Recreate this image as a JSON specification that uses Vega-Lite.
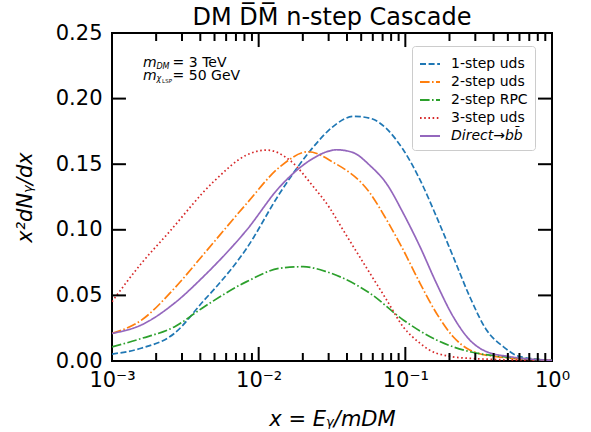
{
  "$schema": "https://vega.github.io/schema/vega-lite/v6.json",
  "width": 440,
  "height": 328,
  "autosize": {"type": "none"},
  "padding": {"left": 112, "top": 33, "right": 39, "bottom": 71},
  "background": "white",
  "config": {
    "font": "DejaVu Sans",
    "view": {"stroke": "black", "strokeWidth": 2},
    "axis": {"grid": false, "domain": false, "labelColor": "black", "titleColor": "black", "labelFont": "DejaVu Sans", "titleFont": "DejaVu Sans"}
  },
  "title": {"text": "DM D̅M̅ n-step Cascade", "fontSize": 24, "fontWeight": "normal", "font": "DejaVu Sans", "color": "black", "offset": -27, "baseline": "alphabetic", "anchor": "middle"},
  "datasets": {
    "lines": [
      {"series": "1-step uds", "x": 0.001, "y": 0.0053},
      {"series": "1-step uds", "x": 0.00158, "y": 0.0097},
      {"series": "1-step uds", "x": 0.00266, "y": 0.021},
      {"series": "1-step uds", "x": 0.00426, "y": 0.0465},
      {"series": "1-step uds", "x": 0.00491, "y": 0.054},
      {"series": "1-step uds", "x": 0.00828, "y": 0.0859},
      {"series": "1-step uds", "x": 0.01396, "y": 0.128},
      {"series": "1-step uds", "x": 0.02355, "y": 0.163},
      {"series": "1-step uds", "x": 0.0316, "y": 0.178},
      {"series": "1-step uds", "x": 0.0447, "y": 0.1865},
      {"series": "1-step uds", "x": 0.0574, "y": 0.185},
      {"series": "1-step uds", "x": 0.0968, "y": 0.161},
      {"series": "1-step uds", "x": 0.126, "y": 0.138},
      {"series": "1-step uds", "x": 0.163, "y": 0.11},
      {"series": "1-step uds", "x": 0.212, "y": 0.0795},
      {"series": "1-step uds", "x": 0.275, "y": 0.049},
      {"series": "1-step uds", "x": 0.358, "y": 0.0236},
      {"series": "1-step uds", "x": 0.465, "y": 0.011},
      {"series": "1-step uds", "x": 0.604, "y": 0.0033},
      {"series": "1-step uds", "x": 1, "y": 0.0005},
      {"series": "2-step uds", "x": 0.001, "y": 0.021},
      {"series": "2-step uds", "x": 0.00158, "y": 0.031},
      {"series": "2-step uds", "x": 0.00266, "y": 0.0553},
      {"series": "2-step uds", "x": 0.00426, "y": 0.082},
      {"series": "2-step uds", "x": 0.00828, "y": 0.12},
      {"series": "2-step uds", "x": 0.01396, "y": 0.148},
      {"series": "2-step uds", "x": 0.0218, "y": 0.1595},
      {"series": "2-step uds", "x": 0.0316, "y": 0.152},
      {"series": "2-step uds", "x": 0.0574, "y": 0.128},
      {"series": "2-step uds", "x": 0.0746, "y": 0.1075},
      {"series": "2-step uds", "x": 0.0968, "y": 0.0846},
      {"series": "2-step uds", "x": 0.126, "y": 0.0592},
      {"series": "2-step uds", "x": 0.163, "y": 0.0364},
      {"series": "2-step uds", "x": 0.212, "y": 0.0185},
      {"series": "2-step uds", "x": 0.275, "y": 0.0084},
      {"series": "2-step uds", "x": 0.419, "y": 0.0033},
      {"series": "2-step uds", "x": 1, "y": 0.0005},
      {"series": "2-step RPC", "x": 0.001, "y": 0.0107},
      {"series": "2-step RPC", "x": 0.00158, "y": 0.0171},
      {"series": "2-step RPC", "x": 0.00266, "y": 0.026},
      {"series": "2-step RPC", "x": 0.00426, "y": 0.0414},
      {"series": "2-step RPC", "x": 0.00828, "y": 0.0605},
      {"series": "2-step RPC", "x": 0.01396, "y": 0.0707},
      {"series": "2-step RPC", "x": 0.0201, "y": 0.0719},
      {"series": "2-step RPC", "x": 0.0291, "y": 0.068},
      {"series": "2-step RPC", "x": 0.0574, "y": 0.0516},
      {"series": "2-step RPC", "x": 0.0968, "y": 0.0313},
      {"series": "2-step RPC", "x": 0.163, "y": 0.016},
      {"series": "2-step RPC", "x": 0.275, "y": 0.0071},
      {"series": "2-step RPC", "x": 0.465, "y": 0.0033},
      {"series": "2-step RPC", "x": 1, "y": 0.0005},
      {"series": "3-step uds", "x": 0.001, "y": 0.0452},
      {"series": "3-step uds", "x": 0.00158, "y": 0.0742},
      {"series": "3-step uds", "x": 0.00241, "y": 0.0973},
      {"series": "3-step uds", "x": 0.00491, "y": 0.1365},
      {"series": "3-step uds", "x": 0.00828, "y": 0.157},
      {"series": "3-step uds", "x": 0.01135, "y": 0.1608},
      {"series": "3-step uds", "x": 0.01633, "y": 0.153},
      {"series": "3-step uds", "x": 0.02355, "y": 0.133},
      {"series": "3-step uds", "x": 0.0306, "y": 0.1164},
      {"series": "3-step uds", "x": 0.0355, "y": 0.1045},
      {"series": "3-step uds", "x": 0.0574, "y": 0.0668},
      {"series": "3-step uds", "x": 0.0746, "y": 0.0465},
      {"series": "3-step uds", "x": 0.0968, "y": 0.026},
      {"series": "3-step uds", "x": 0.126, "y": 0.0135},
      {"series": "3-step uds", "x": 0.163, "y": 0.0059},
      {"series": "3-step uds", "x": 0.275, "y": 0.002},
      {"series": "3-step uds", "x": 1, "y": 0.0003},
      {"series": "Direct→bb̄", "x": 0.001, "y": 0.021},
      {"series": "Direct→bb̄", "x": 0.00158, "y": 0.0274},
      {"series": "Direct→bb̄", "x": 0.00266, "y": 0.044},
      {"series": "Direct→bb̄", "x": 0.00426, "y": 0.065},
      {"series": "Direct→bb̄", "x": 0.00491, "y": 0.0719},
      {"series": "Direct→bb̄", "x": 0.00828, "y": 0.0998},
      {"series": "Direct→bb̄", "x": 0.01396, "y": 0.1329},
      {"series": "Direct→bb̄", "x": 0.02355, "y": 0.1545},
      {"series": "Direct→bb̄", "x": 0.0291, "y": 0.1595},
      {"series": "Direct→bb̄", "x": 0.0339, "y": 0.161},
      {"series": "Direct→bb̄", "x": 0.0437, "y": 0.159},
      {"series": "Direct→bb̄", "x": 0.0574, "y": 0.149},
      {"series": "Direct→bb̄", "x": 0.0746, "y": 0.135},
      {"series": "Direct→bb̄", "x": 0.0968, "y": 0.1126},
      {"series": "Direct→bb̄", "x": 0.126, "y": 0.087},
      {"series": "Direct→bb̄", "x": 0.163, "y": 0.0592},
      {"series": "Direct→bb̄", "x": 0.212, "y": 0.0338},
      {"series": "Direct→bb̄", "x": 0.275, "y": 0.016},
      {"series": "Direct→bb̄", "x": 0.358, "y": 0.0071},
      {"series": "Direct→bb̄", "x": 0.516, "y": 0.0033},
      {"series": "Direct→bb̄", "x": 1, "y": 0.0005}
    ],
    "notes": [
      {"part": "m", "x": 0.00163, "y": 0.227, "t": "m"},
      {"part": "m", "x": 0.00163, "y": 0.2175, "t": "m"},
      {"part": "sub", "x": 0.00163, "y": 0.227, "t": "DM"},
      {"part": "sub", "x": 0.00163, "y": 0.2175, "t": "χ"},
      {"part": "lsp", "x": 0.00163, "y": 0.2175, "t": "LSP"},
      {"part": "eq1", "x": 0.00163, "y": 0.227, "t": "= 3 TeV"},
      {"part": "eq2", "x": 0.00163, "y": 0.2175, "t": "= 50 GeV"}
    ]
  },
  "layer": [
    {
      "data": {"name": "lines"},
      "mark": {"type": "line", "strokeWidth": 1.7, "clip": true, "interpolate": "monotone"},
      "encoding": {
        "x": {
          "field": "x", "type": "quantitative",
          "scale": {"type": "log", "domain": [0.001, 1], "nice": false},
          "axis": {
            "orient": "bottom",
            "values": [0.001, 0.01, 0.1, 1],
            "labelExpr": "datum.value < 0.0015 ? '10⁻³' : (datum.value < 0.015 ? '10⁻²' : (datum.value < 0.15 ? '10⁻¹' : '10⁰'))",
            "ticks": false,
            "labelFontSize": 21,
            "labelPadding": 8,
            "labelFlush": false,
            "labelOverlap": false,
            "title": "x = Eᵧ/mDM",
            "titleFontSize": 21,
            "titleFontWeight": "normal",
            "titleFontStyle": "italic",
            "titlePadding": 18
          }
        },
        "y": {
          "field": "y", "type": "quantitative",
          "scale": {"domain": [0, 0.25], "nice": false},
          "axis": {
            "orient": "left",
            "values": [0, 0.05, 0.1, 0.15, 0.2, 0.25],
            "format": ".2f",
            "ticks": false,
            "labelFontSize": 21,
            "labelPadding": 10,
            "labelFlush": false,
            "labelOverlap": false,
            "title": "x²dNᵧ/dx",
            "titleFontSize": 21,
            "titleFontWeight": "normal",
            "titleFontStyle": "italic",
            "titlePadding": 20
          }
        },
        "color": {
          "field": "series", "type": "nominal",
          "scale": {"domain": ["1-step uds", "2-step uds", "2-step RPC", "3-step uds", "Direct→bb̄"], "range": ["#1f77b4", "#ff7f0e", "#2ca02c", "#d62728", "#9467bd"]},
          "legend": {
            "title": null, "orient": "none", "legendX": 300, "legendY": 13,
            "symbolType": "stroke", "symbolSize": 400, "symbolStrokeWidth": 2,
            "labelFontSize": 14, "labelFont": "DejaVu Sans", "labelColor": "black", "labelOffset": 10,
            "rowPadding": 0, "padding": 7, "fillColor": "white", "strokeColor": "#cccccc", "cornerRadius": 3,
            "labelLimit": 200,
            "encode": {"labels": {"update": {"fontStyle": {"signal": "datum.value === 'Direct→bb̄' ? 'italic' : 'normal'"}}}}
          }
        },
        "strokeDash": {
          "field": "series", "type": "nominal",
          "scale": {"domain": ["1-step uds", "2-step uds", "2-step RPC", "3-step uds", "Direct→bb̄"], "range": [[6, 2.6], [9.6, 2.4, 1.6, 2.4], [9.6, 2.4, 1.6, 2.4], [1.6, 2.6], [1, 0]]},
          "legend": {
            "title": null, "orient": "none", "legendX": 300, "legendY": 13,
            "symbolType": "stroke", "symbolSize": 400, "symbolStrokeWidth": 2,
            "labelFontSize": 14, "labelFont": "DejaVu Sans", "labelColor": "black", "labelOffset": 10,
            "rowPadding": 0, "padding": 7, "fillColor": "white", "strokeColor": "#cccccc", "cornerRadius": 3,
            "labelLimit": 200,
            "encode": {"labels": {"update": {"fontStyle": {"signal": "datum.value === 'Direct→bb̄' ? 'italic' : 'normal'"}}}}
          }
        }
      }
    },
    {
      "data": {"name": "notes"},
      "transform": [{"filter": "datum.part === 'm'"}],
      "mark": {"type": "text", "fontSize": 14, "fontStyle": "italic", "align": "left", "baseline": "middle", "color": "black"},
      "encoding": {
        "x": {"field": "x", "type": "quantitative", "axis": null},
        "y": {"field": "y", "type": "quantitative", "axis": null},
        "text": {"field": "t"}
      }
    },
    {
      "data": {"name": "notes"},
      "transform": [{"filter": "datum.part === 'sub'"}],
      "mark": {"type": "text", "fontSize": 8, "fontStyle": "italic", "align": "left", "baseline": "middle", "dx": 13.3, "dy": 3.5, "color": "black"},
      "encoding": {
        "x": {"field": "x", "type": "quantitative", "axis": null},
        "y": {"field": "y", "type": "quantitative", "axis": null},
        "text": {"field": "t"}
      }
    },
    {
      "data": {"name": "notes"},
      "transform": [{"filter": "datum.part === 'lsp'"}],
      "mark": {"type": "text", "fontSize": 5.5, "align": "left", "baseline": "middle", "dx": 19, "dy": 5.5, "color": "black"},
      "encoding": {
        "x": {"field": "x", "type": "quantitative", "axis": null},
        "y": {"field": "y", "type": "quantitative", "axis": null},
        "text": {"field": "t"}
      }
    },
    {
      "data": {"name": "notes"},
      "transform": [{"filter": "datum.part === 'eq1'"}],
      "mark": {"type": "text", "fontSize": 14, "align": "left", "baseline": "middle", "dx": 29.5, "color": "black"},
      "encoding": {
        "x": {"field": "x", "type": "quantitative", "axis": null},
        "y": {"field": "y", "type": "quantitative", "axis": null},
        "text": {"field": "t"}
      }
    },
    {
      "data": {"name": "notes"},
      "transform": [{"filter": "datum.part === 'eq2'"}],
      "mark": {"type": "text", "fontSize": 14, "align": "left", "baseline": "middle", "dx": 29.5, "color": "black"},
      "encoding": {
        "x": {"field": "x", "type": "quantitative", "axis": null},
        "y": {"field": "y", "type": "quantitative", "axis": null},
        "text": {"field": "t"}
      }
    },
    {
      "data": {"values": [
        {"id": "b-0.01", "x": 0.01, "y": 0}, {"id": "b-0.01", "x": 0.01, "y": 0.0107},
        {"id": "b-0.1", "x": 0.1, "y": 0}, {"id": "b-0.1", "x": 0.1, "y": 0.0107},
        {"id": "t-0.01", "x": 0.01, "y": 0.25}, {"id": "t-0.01", "x": 0.01, "y": 0.2393},
        {"id": "t-0.1", "x": 0.1, "y": 0.25}, {"id": "t-0.1", "x": 0.1, "y": 0.2393},
        {"id": "b-0.002", "x": 0.002, "y": 0}, {"id": "b-0.002", "x": 0.002, "y": 0.0061},
        {"id": "b-0.003", "x": 0.003, "y": 0}, {"id": "b-0.003", "x": 0.003, "y": 0.0061},
        {"id": "b-0.004", "x": 0.004, "y": 0}, {"id": "b-0.004", "x": 0.004, "y": 0.0061},
        {"id": "b-0.005", "x": 0.005, "y": 0}, {"id": "b-0.005", "x": 0.005, "y": 0.0061},
        {"id": "b-0.006", "x": 0.006, "y": 0}, {"id": "b-0.006", "x": 0.006, "y": 0.0061},
        {"id": "b-0.007", "x": 0.007, "y": 0}, {"id": "b-0.007", "x": 0.007, "y": 0.0061},
        {"id": "b-0.008", "x": 0.008, "y": 0}, {"id": "b-0.008", "x": 0.008, "y": 0.0061},
        {"id": "b-0.009", "x": 0.009, "y": 0}, {"id": "b-0.009", "x": 0.009, "y": 0.0061},
        {"id": "b-0.02", "x": 0.02, "y": 0}, {"id": "b-0.02", "x": 0.02, "y": 0.0061},
        {"id": "b-0.03", "x": 0.03, "y": 0}, {"id": "b-0.03", "x": 0.03, "y": 0.0061},
        {"id": "b-0.04", "x": 0.04, "y": 0}, {"id": "b-0.04", "x": 0.04, "y": 0.0061},
        {"id": "b-0.05", "x": 0.05, "y": 0}, {"id": "b-0.05", "x": 0.05, "y": 0.0061},
        {"id": "b-0.06", "x": 0.06, "y": 0}, {"id": "b-0.06", "x": 0.06, "y": 0.0061},
        {"id": "b-0.07", "x": 0.07, "y": 0}, {"id": "b-0.07", "x": 0.07, "y": 0.0061},
        {"id": "b-0.08", "x": 0.08, "y": 0}, {"id": "b-0.08", "x": 0.08, "y": 0.0061},
        {"id": "b-0.09", "x": 0.09, "y": 0}, {"id": "b-0.09", "x": 0.09, "y": 0.0061},
        {"id": "b-0.2", "x": 0.2, "y": 0}, {"id": "b-0.2", "x": 0.2, "y": 0.0061},
        {"id": "b-0.3", "x": 0.3, "y": 0}, {"id": "b-0.3", "x": 0.3, "y": 0.0061},
        {"id": "b-0.4", "x": 0.4, "y": 0}, {"id": "b-0.4", "x": 0.4, "y": 0.0061},
        {"id": "b-0.5", "x": 0.5, "y": 0}, {"id": "b-0.5", "x": 0.5, "y": 0.0061},
        {"id": "b-0.6", "x": 0.6, "y": 0}, {"id": "b-0.6", "x": 0.6, "y": 0.0061},
        {"id": "b-0.7", "x": 0.7, "y": 0}, {"id": "b-0.7", "x": 0.7, "y": 0.0061},
        {"id": "b-0.8", "x": 0.8, "y": 0}, {"id": "b-0.8", "x": 0.8, "y": 0.0061},
        {"id": "b-0.9", "x": 0.9, "y": 0}, {"id": "b-0.9", "x": 0.9, "y": 0.0061},
        {"id": "t-0.002", "x": 0.002, "y": 0.25}, {"id": "t-0.002", "x": 0.002, "y": 0.2439},
        {"id": "t-0.003", "x": 0.003, "y": 0.25}, {"id": "t-0.003", "x": 0.003, "y": 0.2439},
        {"id": "t-0.004", "x": 0.004, "y": 0.25}, {"id": "t-0.004", "x": 0.004, "y": 0.2439},
        {"id": "t-0.005", "x": 0.005, "y": 0.25}, {"id": "t-0.005", "x": 0.005, "y": 0.2439},
        {"id": "t-0.006", "x": 0.006, "y": 0.25}, {"id": "t-0.006", "x": 0.006, "y": 0.2439},
        {"id": "t-0.007", "x": 0.007, "y": 0.25}, {"id": "t-0.007", "x": 0.007, "y": 0.2439},
        {"id": "t-0.008", "x": 0.008, "y": 0.25}, {"id": "t-0.008", "x": 0.008, "y": 0.2439},
        {"id": "t-0.009", "x": 0.009, "y": 0.25}, {"id": "t-0.009", "x": 0.009, "y": 0.2439},
        {"id": "t-0.02", "x": 0.02, "y": 0.25}, {"id": "t-0.02", "x": 0.02, "y": 0.2439},
        {"id": "t-0.03", "x": 0.03, "y": 0.25}, {"id": "t-0.03", "x": 0.03, "y": 0.2439},
        {"id": "t-0.04", "x": 0.04, "y": 0.25}, {"id": "t-0.04", "x": 0.04, "y": 0.2439},
        {"id": "t-0.05", "x": 0.05, "y": 0.25}, {"id": "t-0.05", "x": 0.05, "y": 0.2439},
        {"id": "t-0.06", "x": 0.06, "y": 0.25}, {"id": "t-0.06", "x": 0.06, "y": 0.2439},
        {"id": "t-0.07", "x": 0.07, "y": 0.25}, {"id": "t-0.07", "x": 0.07, "y": 0.2439},
        {"id": "t-0.08", "x": 0.08, "y": 0.25}, {"id": "t-0.08", "x": 0.08, "y": 0.2439},
        {"id": "t-0.09", "x": 0.09, "y": 0.25}, {"id": "t-0.09", "x": 0.09, "y": 0.2439},
        {"id": "t-0.2", "x": 0.2, "y": 0.25}, {"id": "t-0.2", "x": 0.2, "y": 0.2439},
        {"id": "t-0.3", "x": 0.3, "y": 0.25}, {"id": "t-0.3", "x": 0.3, "y": 0.2439},
        {"id": "t-0.4", "x": 0.4, "y": 0.25}, {"id": "t-0.4", "x": 0.4, "y": 0.2439},
        {"id": "t-0.5", "x": 0.5, "y": 0.25}, {"id": "t-0.5", "x": 0.5, "y": 0.2439},
        {"id": "t-0.6", "x": 0.6, "y": 0.25}, {"id": "t-0.6", "x": 0.6, "y": 0.2439},
        {"id": "t-0.7", "x": 0.7, "y": 0.25}, {"id": "t-0.7", "x": 0.7, "y": 0.2439},
        {"id": "t-0.8", "x": 0.8, "y": 0.25}, {"id": "t-0.8", "x": 0.8, "y": 0.2439},
        {"id": "t-0.9", "x": 0.9, "y": 0.25}, {"id": "t-0.9", "x": 0.9, "y": 0.2439},
        {"id": "l-0.05", "x": 0.001, "y": 0.05}, {"id": "l-0.05", "x": 0.001245, "y": 0.05},
        {"id": "l-0.10", "x": 0.001, "y": 0.1}, {"id": "l-0.10", "x": 0.001245, "y": 0.1},
        {"id": "l-0.15", "x": 0.001, "y": 0.15}, {"id": "l-0.15", "x": 0.001245, "y": 0.15},
        {"id": "l-0.20", "x": 0.001, "y": 0.2}, {"id": "l-0.20", "x": 0.001245, "y": 0.2},
        {"id": "r-0.05", "x": 0.8027, "y": 0.05}, {"id": "r-0.05", "x": 1, "y": 0.05},
        {"id": "r-0.10", "x": 0.8027, "y": 0.1}, {"id": "r-0.10", "x": 1, "y": 0.1},
        {"id": "r-0.15", "x": 0.8027, "y": 0.15}, {"id": "r-0.15", "x": 1, "y": 0.15},
        {"id": "r-0.20", "x": 0.8027, "y": 0.2}, {"id": "r-0.20", "x": 1, "y": 0.2}
      ]},
      "mark": {"type": "line", "stroke": "#000000", "strokeWidth": 2, "strokeOpacity": 1, "opacity": 1, "interpolate": "linear"},
      "encoding": {
        "x": {"field": "x", "type": "quantitative", "axis": null},
        "y": {"field": "y", "type": "quantitative", "axis": null},
        "detail": {"field": "id", "type": "nominal"}
      }
    }
  ],
  "resolve": {"axis": {"x": "independent", "y": "independent"}}
}
